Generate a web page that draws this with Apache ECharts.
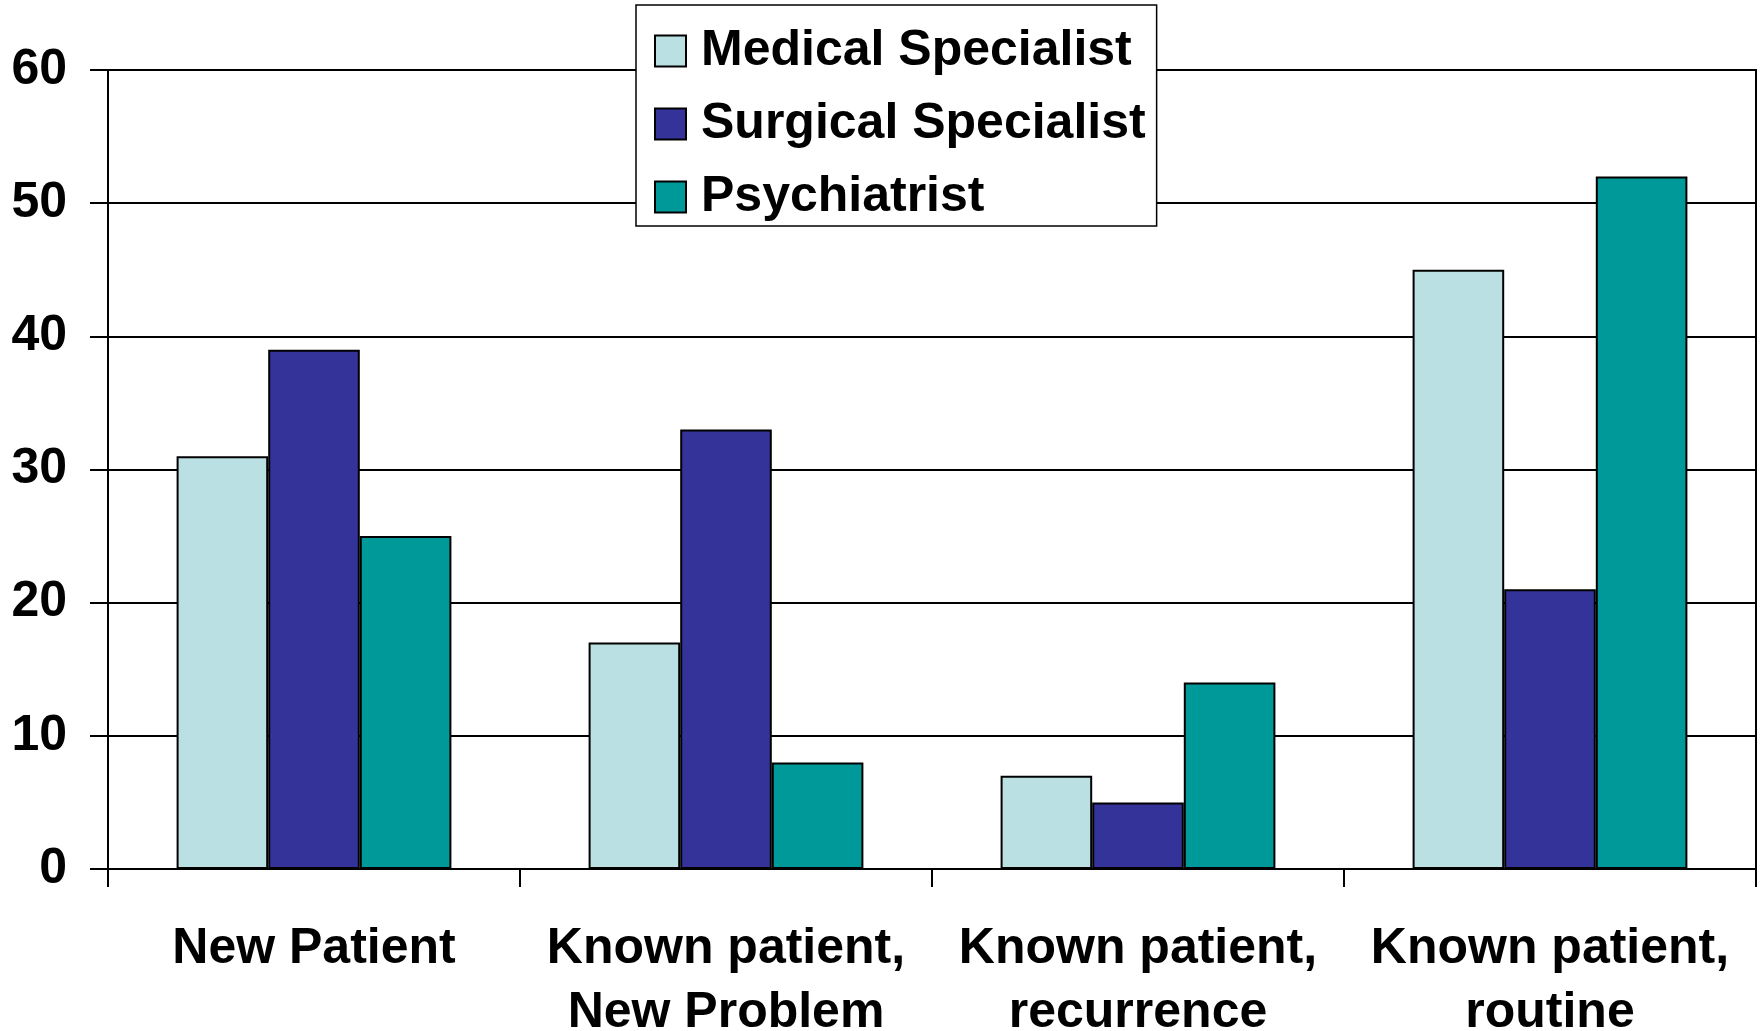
<!DOCTYPE html>
<html>
<head>
<meta charset="utf-8">
<script src="https://cdn.jsdelivr.net/npm/echarts@6/dist/echarts.min.js"></script>
<style>
  html, body { margin: 0; padding: 0; background: #fff; }
  #chart { width: 1760px; height: 1031px; }
</style>
</head>
<body>
<div id="chart"></div>
<script>
// Visit types on the category axis
const categories = [
  'New Patient',
  'Known patient,\nNew Problem',
  'Known patient,\nrecurrence',
  'Known patient,\nroutine'
];

// Values per specialist group
const medicalSpecialist = [31, 17, 7, 45];
const surgicalSpecialist = [39, 33, 5, 21];
const psychiatrist = [25, 8, 14, 52];

// Value axis range
const yMin = 0;
const yMax = 60;
const yStep = 10;

const FONT = '"Liberation Sans", Arial, sans-serif';
const barBorder = { borderColor: '#000', borderWidth: 2 };

const chart = echarts.init(document.getElementById('chart'), null, { renderer: 'canvas' });

chart.setOption({
  animation: false,
  backgroundColor: '#fff',
  textStyle: { fontFamily: FONT },
  grid: {
    left: 108,
    right: 4,
    top: 70,
    bottom: 162,
    outerBoundsMode: 'none',
    containLabel: false,
    show: true,
    borderColor: '#000',
    borderWidth: 2,
    backgroundColor: 'transparent'
  },
  legend: {
    orient: 'vertical',
    left: 636,
    top: 5,
    padding: [18, 11, 1, 18],
    itemWidth: 31,
    itemHeight: 31,
    itemGap: 17,
    backgroundColor: '#fff',
    borderColor: '#000',
    borderWidth: 1.5,
    icon: 'rect',
    itemStyle: { borderColor: '#000', borderWidth: 2 },
    textStyle: {
      fontFamily: FONT,
      fontWeight: 'bold',
      fontSize: 50,
      color: '#000',
      lineHeight: 56,
      padding: [0, 0, 0, 10]
    },
    data: ['Medical Specialist', 'Surgical Specialist', 'Psychiatrist']
  },
  xAxis: {
    type: 'category',
    data: categories,
    boundaryGap: true,
    axisLine: { show: true, lineStyle: { color: '#000', width: 2 } },
    axisTick: { show: true, length: 18, lineStyle: { color: '#000', width: 2 } },
    axisLabel: {
      margin: 48,
      interval: 0,
      color: '#000',
      fontFamily: FONT,
      fontWeight: 'bold',
      fontSize: 50,
      lineHeight: 64
    },
    splitLine: { show: false }
  },
  yAxis: {
    type: 'value',
    min: yMin,
    max: yMax,
    interval: yStep,
    axisLine: { show: true, lineStyle: { color: '#000', width: 2 } },
    axisTick: { show: true, length: 18, lineStyle: { color: '#000', width: 2 } },
    axisLabel: {
      margin: 41,
      color: '#000',
      fontFamily: FONT,
      fontWeight: 'bold',
      fontSize: 50
    },
    splitLine: { show: true, lineStyle: { color: '#000', width: 2 } }
  },
  series: [
    {
      name: 'Medical Specialist',
      type: 'bar',
      data: medicalSpecialist,
      barGap: '0%',
      barCategoryGap: '33.3%',
      itemStyle: Object.assign({ color: '#BBE0E3' }, barBorder)
    },
    {
      name: 'Surgical Specialist',
      type: 'bar',
      data: surgicalSpecialist,
      barGap: '0%',
      barCategoryGap: '33.3%',
      itemStyle: Object.assign({ color: '#333399' }, barBorder)
    },
    {
      name: 'Psychiatrist',
      type: 'bar',
      data: psychiatrist,
      barGap: '0%',
      barCategoryGap: '33.3%',
      itemStyle: Object.assign({ color: '#009999' }, barBorder)
    }
  ]
});
</script>
</body>
</html>
